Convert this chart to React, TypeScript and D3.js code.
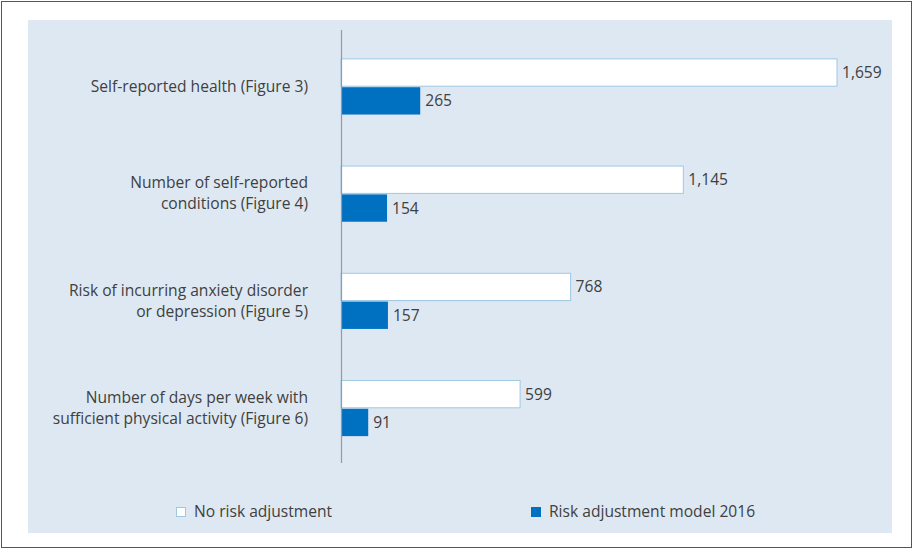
import React from "react";
import * as d3 from "d3";

const categories = [
  ["Self-reported health (Figure 3)"],
  ["Number of self-reported", "conditions (Figure 4)"],
  ["Risk of incurring anxiety disorder", "or depression (Figure 5)"],
  ["Number of days per week with", "sufficient physical activity (Figure 6)"],
];
const seriesNames = ["No risk adjustment", "Risk adjustment model 2016"];
const noAdjustment = [1659, 1145, 768, 599];
const adjustment2016 = [265, 154, 157, 91];

const W = 914;
const H = 549;
const FONT = "'Open Sans', Lato, sans-serif";
const FS = 15.6;
const TXT = "#404040";
const BLUE = "#0070C0";

export default function App() {
  const x0 = 341;
  const x = d3.scaleLinear().domain([0, 1659]).range([x0, 837]);
  const y = d3
    .scaleBand<number>()
    .domain(d3.range(categories.length))
    .range([31, 463])
    .paddingInner(0.49)
    .paddingOuter(0.26);
  const bw = y.bandwidth() / 2;
  const fmt = d3.format(",");

  return (
    <svg
      width={W}
      height={H}
      style={{ position: "absolute", left: 0, top: 0, background: "#fff" }}
    >
      <rect x={1.5} y={1.5} width={910} height={546} fill="#fff" stroke="#555" strokeWidth={1} />
      <rect x={28} y={20} width={864} height={513} fill="#DEE8F3" />
      {categories.map((lines, i) => {
        const yb = y(i)!;
        const cy = yb + bw;
        const lh = 21;
        const startY = cy - ((lines.length - 1) * lh) / 2;
        return (
          <g key={i}>
            <rect
              x={x(0)}
              y={yb}
              width={x(noAdjustment[i]) - x(0)}
              height={bw}
              fill="#fff"
              stroke="#9DC8E4"
              strokeWidth={1}
            />
            <rect
              x={x(0)}
              y={yb + bw + 1}
              width={x(adjustment2016[i]) - x(0)}
              height={bw}
              fill={BLUE}
            />
            <text
              x={x(noAdjustment[i]) + 5}
              y={yb + bw / 2}
              dy="0.35em"
              fontFamily={FONT}
              fontSize={FS}
              fill={TXT}
            >
              {fmt(noAdjustment[i])}
            </text>
            <text
              x={x(adjustment2016[i]) + 5}
              y={yb + bw * 1.5 + 1}
              dy="0.35em"
              fontFamily={FONT}
              fontSize={FS}
              fill={TXT}
            >
              {fmt(adjustment2016[i])}
            </text>
            {lines.map((ln, j) => (
              <text
                key={j}
                x={308}
                y={startY + j * lh}
                dy="0.35em"
                textAnchor="end"
                fontFamily={FONT}
                fontSize={FS}
                fill={TXT}
              >
                {ln}
              </text>
            ))}
          </g>
        );
      })}
      <line x1={x0 + 0.5} x2={x0 + 0.5} y1={30} y2={463} stroke="#999" strokeWidth={1.2} />
      <g>
        <rect x={176.5} y={507.5} width={9} height={9} fill="#fff" stroke="#9DC8E4" />
        <text x={194} y={512} dy="0.35em" fontFamily={FONT} fontSize={FS} fill={TXT}>
          {seriesNames[0]}
        </text>
        <rect x={531} y={507} width={10} height={10} fill={BLUE} />
        <text x={549} y={512} dy="0.35em" fontFamily={FONT} fontSize={FS} fill={TXT}>
          {seriesNames[1]}
        </text>
      </g>
    </svg>
  );
}
